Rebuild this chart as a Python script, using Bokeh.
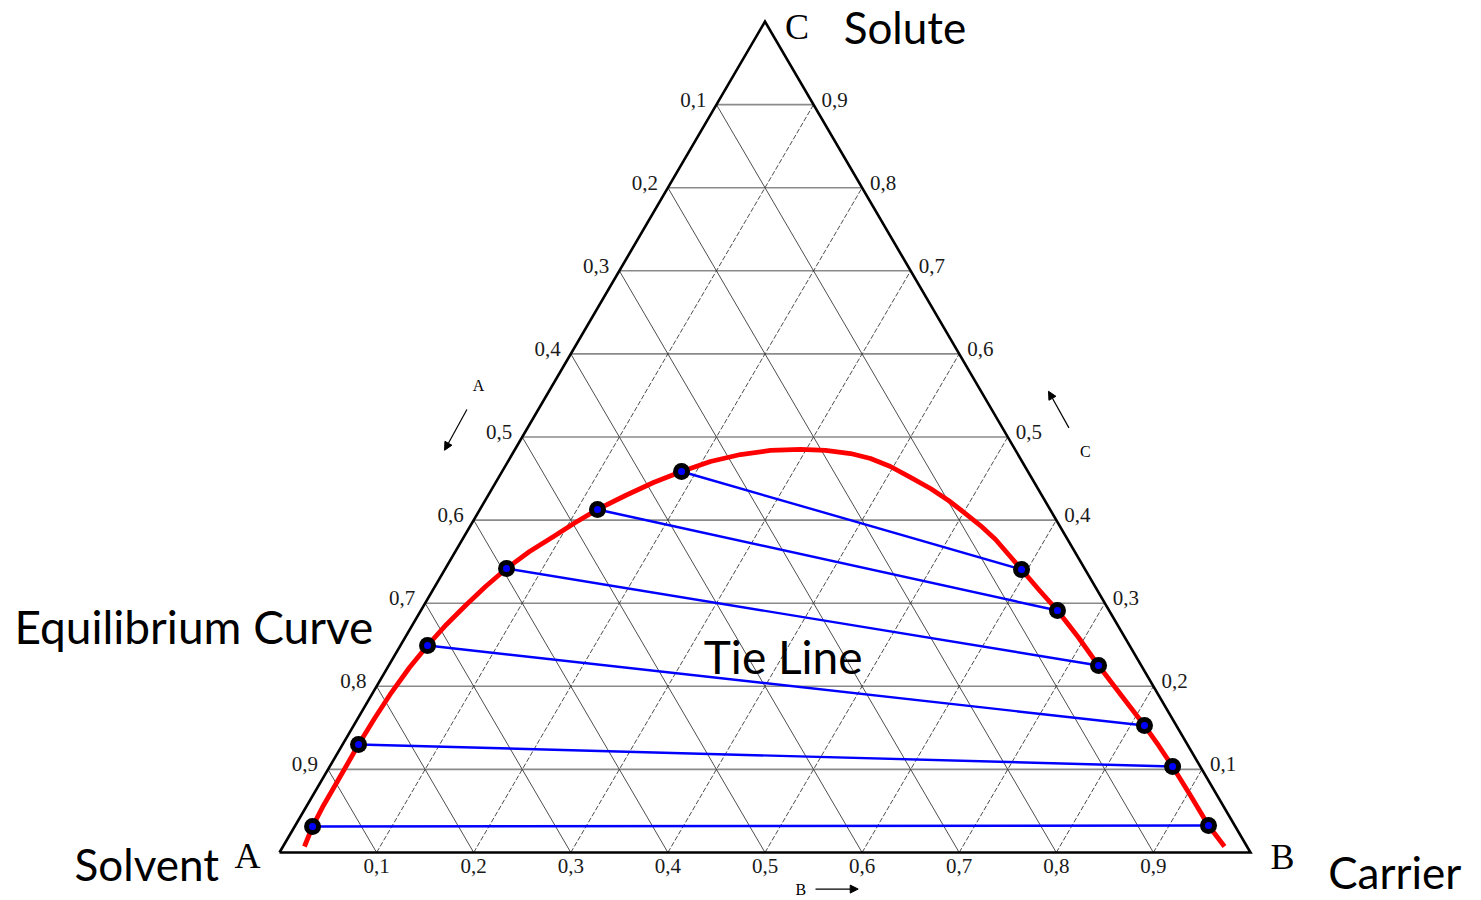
from bokeh.plotting import figure
from bokeh.models import Range1d, Arrow, NormalHead
from bokeh.core.properties import value
from bokeh.embed import file_html
from bokeh.resources import INLINE

# ---- data (mass fractions: B = carrier, C = solute; A = 1 - B - C) ----
grid_values = [0.1, 0.2, 0.3, 0.4, 0.5, 0.6, 0.7, 0.8, 0.9]
grid_labels = ["0,1", "0,2", "0,3", "0,4", "0,5", "0,6", "0,7", "0,8", "0,9"]

# binodal (equilibrium) curve, from the solvent corner round to the carrier corner
curve_B = [0.0221, 0.0184, 0.0170, 0.0169, 0.0167, 0.0164, 0.0172, 0.0190, 0.0226,
           0.0279, 0.0348, 0.0430, 0.0522, 0.0629, 0.0764, 0.0921, 0.1062, 0.1211,
           0.1415, 0.1626, 0.1848, 0.2086, 0.2353, 0.2638, 0.2941, 0.3204, 0.3480,
           0.3716, 0.3969, 0.4242, 0.4514, 0.4772, 0.5025, 0.5251, 0.5491, 0.5715,
           0.5939, 0.6251, 0.6556, 0.6935, 0.7310, 0.7726, 0.8144, 0.8409, 0.8680,
           0.9039, 0.9405, 0.9696]
curve_C = [0.0072, 0.0313, 0.0566, 0.0794, 0.1047, 0.1300, 0.1613, 0.1925, 0.2226,
           0.2491, 0.2744, 0.2972, 0.3201, 0.3418, 0.3622, 0.3803, 0.3971, 0.4128,
           0.4296, 0.4452, 0.4585, 0.4705, 0.4789, 0.4838, 0.4850, 0.4838, 0.4801,
           0.4741, 0.4645, 0.4513, 0.4380, 0.4236, 0.4079, 0.3935, 0.3767, 0.3586,
           0.3406, 0.3153, 0.2912, 0.2587, 0.2250, 0.1889, 0.1528, 0.1288, 0.1035,
           0.0686, 0.0325, 0.0072]

# tie-line ends: solvent-rich phase and carrier-rich phase
solvent_B = [0.0184, 0.0164, 0.0279, 0.0629, 0.1211, 0.1848]
solvent_C = [0.0313, 0.1300, 0.2491, 0.3418, 0.4128, 0.4585]
carrier_B = [0.9405, 0.8680, 0.8144, 0.7310, 0.6556, 0.5939]
carrier_C = [0.0325, 0.1035, 0.1528, 0.2250, 0.2912, 0.3406]


def to_xy(b, c):
    """Ternary (B, C) -> plane coordinates (A at origin, B at (1,0), C on top)."""
    return [bi + ci / 2.0 for bi, ci in zip(b, c)], list(c)


p = figure(width=1481, height=900,
           x_range=Range1d(-279 / 971, (1481 - 279) / 971),
           y_range=Range1d(-48 / 831, (900 - 48) / 831),
           x_axis_type=None, y_axis_type=None,
           output_backend="svg", toolbar_location=None, min_border=0)
p.grid.visible = False
p.outline_line_color = None
p.background_fill_color = "white"
p.border_fill_color = "white"

# ---- grid ----
# constant C (horizontal)
for v in grid_values:
    xs, ys = to_xy([0.0, 1.0 - v], [v, v])
    p.line(xs, ys, line_color="#8a8a8a", line_width=1.6)
# constant A (parallel to BC)
for v in grid_values:
    xs, ys = to_xy([1.0 - v, 0.0], [0.0, 1.0 - v])
    p.line(xs, ys, line_color="#3a3a3a", line_width=0.9)
# constant B (parallel to AC), dashed
for v in grid_values:
    xs, ys = to_xy([v, v], [0.0, 1.0 - v])
    p.line(xs, ys, line_color="#3a3a3a", line_width=0.9, line_dash="5 2")

# ---- triangle outline ----
tx, ty = to_xy([0.0, 1.0, 0.0, 0.0], [0.0, 0.0, 1.0, 0.0])
p.line(tx, ty, line_color="black", line_width=2.6, line_join="miter")

# ---- tick labels ----
serif = value("Liberation Serif")
tick_color = "#1a1a1a"
bx, by = to_xy(grid_values, [0.0] * 9)
p.text(bx, by, text=grid_labels, text_font=serif, text_font_size="21px",
       text_align="center", text_baseline="top", y_offset=6, text_color=tick_color)
# A fractions along left edge (0,1 at top)
lx, ly = to_xy([0.0] * 9, [1.0 - v for v in grid_values])
p.text(lx, ly, text=grid_labels, text_font=serif, text_font_size="21px",
       text_align="right", text_baseline="alphabetic", x_offset=-10, y_offset=-5,
       text_color=tick_color)
# C fractions along right edge
rx, ry = to_xy([1.0 - v for v in grid_values], grid_values)
p.text(rx, ry, text=grid_labels, text_font=serif, text_font_size="21px",
       text_align="left", text_baseline="alphabetic", x_offset=8, y_offset=-5,
       text_color=tick_color)

# corner letters
p.text([0.0], [0.0], text=["A"], text_font=serif, text_font_size="36px",
       text_align="center", text_baseline="middle", x_offset=-32, y_offset=3)
p.text([1.0], [0.0], text=["B"], text_font=serif, text_font_size="36px",
       text_align="center", text_baseline="middle", x_offset=32, y_offset=4)
p.text([0.5], [1.0], text=["C"], text_font=serif, text_font_size="36px",
       text_align="center", text_baseline="middle", x_offset=32, y_offset=5)

# axis direction arrows
head = dict(size=8, fill_color="black", line_color="black")
p.add_layout(Arrow(end=NormalHead(**head), x_start=0.193, y_start=0.533,
                   x_end=0.170, y_end=0.484, line_width=1.2))
p.add_layout(Arrow(end=NormalHead(**head), x_start=0.813, y_start=0.511,
                   x_end=0.792, y_end=0.555, line_width=1.2))
p.add_layout(Arrow(end=NormalHead(**head), x_start=0.552, y_start=-0.044,
                   x_end=0.596, y_end=-0.044, line_width=1.2))
p.text([0.205, 0.830, 0.537], [0.562, 0.483, -0.044], text=["A", "C", "B"],
       text_font=serif, text_font_size="16px", text_align="center",
       text_baseline="middle")

# ---- tie lines ----
sx, sy = to_xy(solvent_B, solvent_C)
ex, ey = to_xy(carrier_B, carrier_C)
p.multi_line([[a, b] for a, b in zip(sx, ex)], [[a, b] for a, b in zip(sy, ey)],
             line_color="#0000ff", line_width=2.4)

# ---- equilibrium curve ----
cx, cy = to_xy(curve_B, curve_C)
p.line(cx, cy, line_color="#ff0000", line_width=4.8, line_join="round",
       line_cap="butt")

# ---- tie-line end points ----
px_ = sx + ex
py_ = sy + ey
p.scatter(px_, py_, size=17, fill_color="black", line_color=None)
p.scatter(px_, py_, size=7, fill_color="#0000ff", line_color=None)

# ---- descriptive labels ----
sans = value("Lato")
p.text([0.581], [0.993], text=["Solute"], text_font=sans, text_font_size="44px",
       text_baseline="middle")
p.text([-0.273], [0.272], text=["Equilibrium Curve"], text_font=sans,
       text_font_size="46px", text_baseline="middle")
p.text([0.437], [0.236], text=["Tie Line"], text_font=sans, text_font_size="46px",
       text_baseline="middle")
p.text([-0.211], [-0.0144], text=["Solvent"], text_font=sans, text_font_size="44px",
       text_baseline="middle")
p.text([1.080], [-0.0235], text=["Carrier"], text_font=sans, text_font_size="44px",
       text_baseline="middle")

open("out.html", "w").write(file_html(p, INLINE))
